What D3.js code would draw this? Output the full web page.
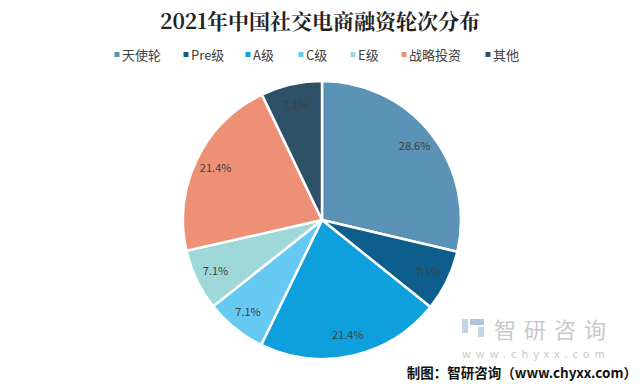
<!DOCTYPE html>
<html><head><meta charset="utf-8">
<script src="https://cdn.jsdelivr.net/npm/d3@7"></script>
<style>body{margin:0;background:#fff}svg{display:block}</style>
</head><body><svg id="c" width="640" height="384"></svg>
<script>
const categories = ["天使轮","Pre级","A级","C级","E级","战略投资","其他"];
const values = [28.6, 7.1, 21.4, 7.1, 7.1, 21.4, 7.1];
const labels = ["28.6%","7.1%","21.4%","7.1%","7.1%","21.4%","7.1%"];
const colors = ["#5a93b5","#0d5e8c","#0ea0dc","#66c9f2","#9ed8d8","#ee9076","#2f5168"];

const svg = d3.select("#c");
const cx = 322, cy = 220, R = 139;
const font = "'Noto Sans CJK SC','Microsoft YaHei',sans-serif";

svg.append("text").attr("x", 320).attr("y", 29).attr("text-anchor","middle")
  .attr("font-family", "'Noto Serif CJK SC','Noto Sans CJK SC',serif").attr("font-weight","bold")
  .attr("font-size", 21).attr("fill","#222").text("2021年中国社交电商融资轮次分布");

const legX = [117,186,248,301,353,404,488];
const lg = svg.append("g");
categories.forEach((c,i)=>{
  lg.append("rect").attr("x", legX[i]-2.5).attr("y", 52).attr("width",5).attr("height",5).attr("fill",colors[i]);
  lg.append("text").attr("x", legX[i]+5).attr("y", 59.5).attr("font-family",font).attr("font-size",13)
    .attr("fill","#404040").text(c);
});

const pie = d3.pie().sort(null).value(d=>d)(values);
const arc = d3.arc().innerRadius(0).outerRadius(R);
const g = svg.append("g").attr("transform",`translate(${cx},${cy})`);
g.selectAll("path").data(pie).join("path").attr("d",arc)
  .attr("fill",(d,i)=>colors[i]).attr("stroke","#fff").attr("stroke-width",2.5).attr("stroke-linejoin","round");

const lab = d3.arc().innerRadius(R*0.85).outerRadius(R*0.85);
g.selectAll("text.l").data(pie).join("text").attr("class","l")
  .attr("transform",d=>`translate(${lab.centroid(d)})`).attr("text-anchor","middle").attr("dy","0.35em")
  .attr("font-family",font).attr("font-size",11).attr("fill","#404040")
  .text((d,i)=>labels[i]);

// watermark
const wm = svg.append("g");
wm.append("rect").attr("x",462).attr("y",319).attr("width",6).attr("height",14).attr("fill","#c5d3e3");
wm.append("rect").attr("x",470).attr("y",319).attr("width",14).attr("height",6).attr("fill","#b0c4dc");
wm.append("rect").attr("x",478).attr("y",327).attr("width",6).attr("height",10).attr("fill","#c5d3e3");
wm.append("text").attr("x",494).attr("y",338).attr("font-family",font).attr("font-size",22)
  .attr("fill","#c8c8c8").attr("letter-spacing",8).text("智研咨询");
wm.append("text").attr("x",462).attr("y",358).attr("font-family",font).attr("font-size",11)
  .attr("fill","#c8c8c8").attr("letter-spacing",5).text("www.chyxx.com");
svg.append("text").attr("x",637).attr("y",378).attr("text-anchor","end").attr("font-family",font)
  .attr("font-weight","bold").attr("font-size",13.5).attr("fill","#111").text("制图：智研咨询（www.chyxx.com）");
</script></body></html>
